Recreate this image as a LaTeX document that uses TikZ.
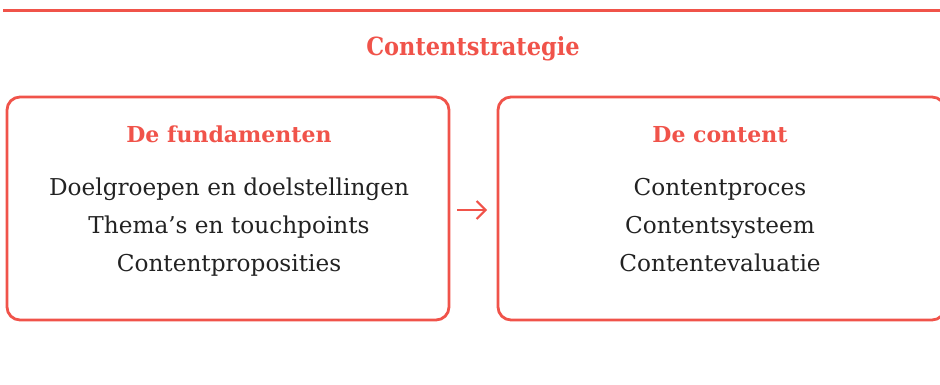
\documentclass[tikz,border=0pt]{standalone}
\usepackage{fontspec}
\setmainfont{DejaVu Serif}
\newfontfamily\condbold{DejaVu Serif Condensed}[BoldFont={DejaVu Serif Condensed Bold}]
\usetikzlibrary{arrows.meta}
\definecolor{accent}{HTML}{F0534A}
\definecolor{ink}{HTML}{222222}
\begin{document}
\begin{tikzpicture}[x=1pt,y=1pt,
  panel/.style={draw=accent, line width=2.8pt, rounded corners=13pt},
  heading/.style={anchor=base, text=accent, font=\fontsize{22}{26}\selectfont\bfseries},
  item/.style={anchor=base, text=ink, font=\fontsize{23.2}{28}\selectfont},
  flow/.style={draw=accent, line width=2pt, -{Straight Barb[length=9pt,width=18pt,line width=2pt]}}]
  \useasboundingbox (0,0) rectangle (940,384);
  % top rule
  \draw[accent, line width=3pt] (3,373) -- (940,373);
  \node[text=accent, font=\condbold\fontsize{25}{28}\selectfont\bfseries] (title) at (473,335) {Contentstrategie};
  % two panels
  \draw[panel] (7,64) rectangle (449,287);
  \draw[panel] (498,64) rectangle (945,287);
  % left panel: foundations
  \node[heading] (h1) at (229,242) {De fundamenten};
  \node[item] (l1a) at (229,189) {Doelgroepen en doelstellingen};
  \node[item] (l1b) at (229,151) {Thema’s en touchpoints};
  \node[item] (l1c) at (229,113) {Contentproposities};
  % right panel: content
  \node[heading] (h2) at (720,242) {De content};
  \node[item] (l2a) at (720,189) {Contentproces};
  \node[item] (l2b) at (720,151) {Contentsysteem};
  \node[item] (l2c) at (720,113) {Contentevaluatie};
  % arrow between the panels
  \coordinate (a1) at (457,174);
  \coordinate (a2) at (487,174);
  \draw[flow] (a1) -- (a2);
\end{tikzpicture}
\end{document}
